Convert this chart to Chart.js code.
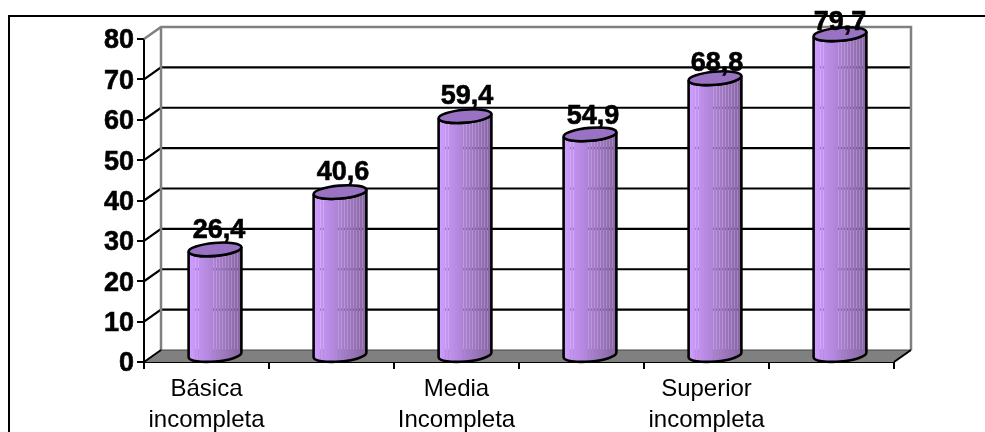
<!DOCTYPE html>
<html>
<head>
<meta charset="utf-8">
<title>Grafico</title>
<script src="https://cdn.jsdelivr.net/npm/chart.js@4/dist/chart.umd.min.js"></script>
<style>
  html, body { margin: 0; padding: 0; background: #fff; overflow: hidden; }
  #wrap { position: relative; width: 985px; height: 432px; }
  #frame { position: absolute; left: 8px; top: 15px; right: 0; bottom: 0;
           border-top: 2px solid #000; border-left: 2px solid #000; }
  canvas { position: absolute; left: 0; top: 0; }
</style>
</head>
<body>
<div id="wrap">
  <div id="frame"></div>
  <canvas id="chart" width="985" height="432"></canvas>
</div>
<script>
(function () {
  'use strict';

  var categories = [['Básica', 'incompleta'], '', ['Media', 'Incompleta'], '', ['Superior', 'incompleta'], ''];
  var values     = [26.4, 40.6, 59.4, 54.9, 68.8, 79.7];
  var yTicks     = [0, 10, 20, 30, 40, 50, 60, 70, 80];

  // depth of the fake 3D box
  var DEPTH_X = 17;
  var DEPTH_Y = 12;

  // value labels are not all placed alike above their caps: [dx, dy]
  var LABEL_NUDGE = [[4, -18.5], [3, -19.5], [2, -19.5], [3, -17.5], [2, -14.5], [0, -12]];

  function line(ctx, x1, y1, x2, y2) {
    ctx.beginPath();
    ctx.moveTo(x1, y1);
    ctx.lineTo(x2, y2);
    ctx.stroke();
  }

  var boxPlugin = {
    id: 'box3d',
    beforeDatasetsDraw: function (chart) {
      var ctx = chart.ctx;
      var a   = chart.chartArea;
      var y   = chart.scales.y;
      var dx  = DEPTH_X;
      var dy  = DEPTH_Y;
      ctx.save();

      // floor
      ctx.fillStyle = '#808080';
      ctx.beginPath();
      ctx.moveTo(a.left, a.bottom);
      ctx.lineTo(a.left + dx, a.bottom - dy);
      ctx.lineTo(a.right + dx, a.bottom - dy);
      ctx.lineTo(a.right, a.bottom);
      ctx.closePath();
      ctx.fill();

      // horizontal grid running round the side wall
      ctx.strokeStyle = '#000';
      ctx.lineWidth = 2.2;
      yTicks.forEach(function (t) {
        if (t === 0 || t === 80) return;
        var py = y.getPixelForValue(t);
        ctx.beginPath();
        ctx.moveTo(a.left, py);
        ctx.lineTo(a.left + dx, py - dy);
        ctx.lineTo(a.right + dx, py - dy);
        ctx.stroke();
      });

      // back wall outline
      ctx.strokeStyle = '#808080';
      ctx.lineWidth = 2.5;
      ctx.beginPath();
      ctx.moveTo(a.left, a.top);
      ctx.lineTo(a.left + dx, a.top - dy);
      ctx.lineTo(a.right + dx, a.top - dy);
      ctx.lineTo(a.right + dx, a.bottom - dy);
      ctx.moveTo(a.left + dx, a.top - dy);
      ctx.lineTo(a.left + dx, a.bottom - dy);
      ctx.stroke();

      ctx.strokeStyle = '#444';
      ctx.lineWidth = 1;
      line(ctx, a.left + dx, a.bottom - dy, a.right + dx, a.bottom - dy);

      ctx.strokeStyle = '#000';
      ctx.lineWidth = 2;
      line(ctx, a.left, a.bottom, a.left + dx, a.bottom - dy);
      line(ctx, a.right, a.bottom, a.right + dx, a.bottom - dy);
      ctx.restore();
    },
    afterDatasetsDraw: function (chart) {
      var ctx  = chart.ctx;
      var bars = chart.getDatasetMeta(0).data;
      bars.forEach(function (bar) { drawCylinder(ctx, bar); });

      // value labels sit on top of the caps
      ctx.save();
      ctx.fillStyle = '#000';
      ctx.strokeStyle = '#000';
      ctx.lineWidth = 0.6;
      ctx.font = 'bold 27px "Liberation Sans"';
      ctx.textAlign = 'center';
      ctx.textBaseline = 'middle';
      bars.forEach(function (bar, i) {
        var text = values[i].toFixed(1).replace('.', ',');
        var tx = bar.x + DEPTH_X / 2 + LABEL_NUDGE[i][0];
        var ty = bar.y - DEPTH_Y / 2 + LABEL_NUDGE[i][1];
        ctx.fillText(text, tx, ty);
        ctx.strokeText(text, tx, ty);
      });
      ctx.restore();
    }
  };

  function shade(t) {
    // light lilac on the left going to muted purple on the right
    var r = Math.round(206 + (134 - 206) * t);
    var g = Math.round(156 + (100 - 156) * t);
    var b = Math.round(255 + (162 - 255) * t);
    return 'rgb(' + r + ',' + g + ',' + b + ')';
  }

  // some one pixel strips are see-through, so the grid shows faintly in the body
  function isThin(t, i) {
    return i % 3 === 0 && ((t > 0.06 && t < 0.2) || (t > 0.46 && t < 0.98));
  }

  function drawCylinder(ctx, bar) {
    var rx   = bar.width / 2;
    var ry   = 6.5;
    var tilt = -5 * Math.PI / 180;
    var cx   = bar.x + DEPTH_X / 2;
    var top  = bar.y - DEPTH_Y / 2;
    var base = bar.base - DEPTH_Y / 2;
    var cols = Math.round(bar.width);
    var left = Math.round(cx - rx);
    var i, t;

    function outline() {
      ctx.beginPath();
      ctx.ellipse(cx, base, rx, ry, tilt, 0, Math.PI);
      ctx.lineTo(cx - rx * Math.cos(tilt), top - rx * Math.sin(tilt));
      ctx.ellipse(cx, top, rx, ry, tilt, Math.PI, 0, true);
      ctx.closePath();
    }

    ctx.save();
    outline();
    ctx.clip();
    for (i = 0; i < cols; i++) {
      t = i / (cols - 1);
      ctx.fillStyle = shade(t);
      ctx.globalAlpha = isThin(t, i) ? 0.8 : 1;
      ctx.fillRect(left + i, top - 12, 1, base - top + 24);
    }
    ctx.restore();

    ctx.save();
    ctx.strokeStyle = '#000';
    ctx.lineWidth = 2.6;
    outline();
    ctx.stroke();

    ctx.fillStyle = '#9a72c4';
    ctx.beginPath();
    ctx.ellipse(cx, top, rx, ry, tilt, 0, Math.PI * 2);
    ctx.fill();
    ctx.stroke();
    ctx.restore();
  }

  new Chart(document.getElementById('chart').getContext('2d'), {
    type: 'bar',
    data: {
      labels: categories,
      datasets: [{
        data: values,
        backgroundColor: 'transparent',
        borderWidth: 0,
        barPercentage: 0.424,
        categoryPercentage: 1,
      }],
    },
    options: {
      responsive: false,
      animation: false,
      devicePixelRatio: 1,
      layout: { padding: { left: 0, top: 39, right: 91, bottom: 0 } },
      plugins: { legend: { display: false }, tooltip: { enabled: false } },
      scales: {
        x: {
          afterFit: function (s) { s.height = 70; },
          border: { color: '#000', width: 2 },
          grid: { drawOnChartArea: false, color: '#000', lineWidth: 2, tickLength: 7 },
          ticks: {
            autoSkip: false,
            maxRotation: 0,
            padding: 5,
            color: '#000',
            font: { family: 'Liberation Sans', size: 24, lineHeight: 1.29 },
          },
        },
        y: {
          min: 0,
          max: 80,
          afterFit: function (s) { s.width = 144; },
          afterBuildTicks: function (s) { s.ticks = yTicks.map(function (v) { return { value: v }; }); },
          border: { color: '#000', width: 2 },
          grid: { drawOnChartArea: false, color: '#000', lineWidth: 2, tickLength: 7 },
          ticks: {
            padding: 3,
            color: '#000',
            textStrokeColor: '#000',
            textStrokeWidth: 0.6,
            // blank first line pushes the digits down level with the tick
            callback: function (v) { return ['', String(v)]; },
            font: { family: 'Liberation Sans', size: 27, weight: 'bold', lineHeight: '4px' },
          },
        },
      },
    },
    plugins: [boxPlugin],
  });
}());
</script>
</body>
</html>
